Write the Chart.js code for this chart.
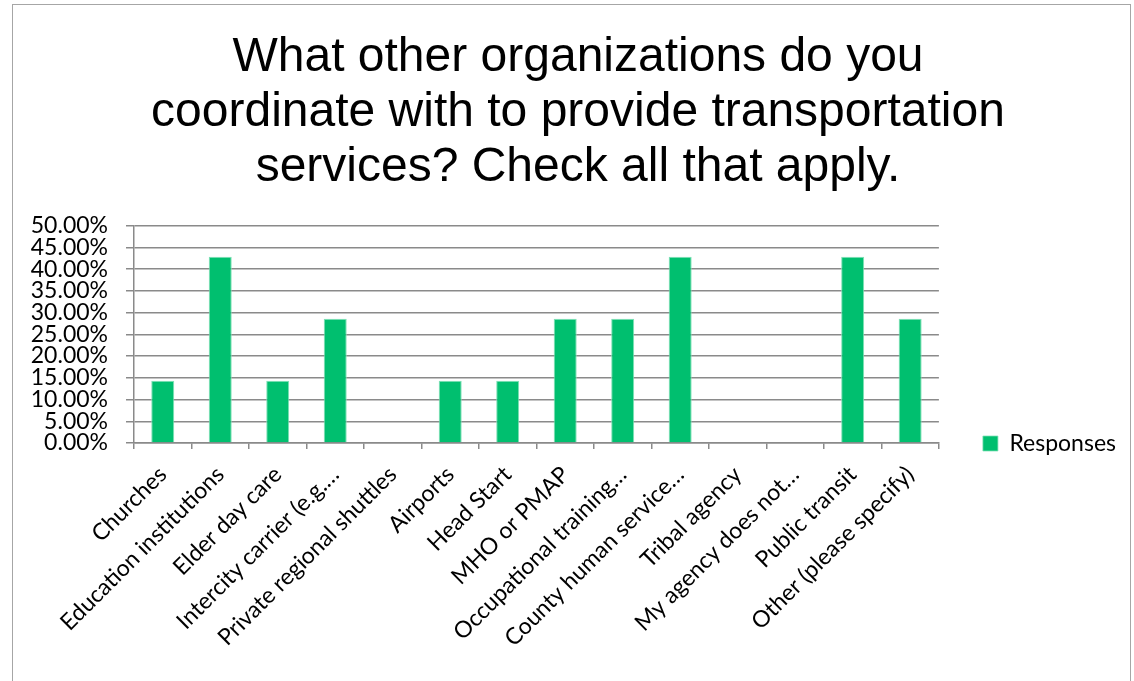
<!DOCTYPE html>
<html>
<head>
<meta charset="utf-8">
<script src="https://cdn.jsdelivr.net/npm/chart.js@4/dist/chart.umd.min.js"></script>
<style>
  html, body { margin: 0; padding: 0; background: #fff; }
  #wrap { position: relative; width: 1134px; height: 681px; overflow: hidden; }
  #frame { position: absolute; left: 12px; top: 4px; width: 1117px; height: 720px; border: 1px solid #a6a6a6; }
  canvas { position: absolute; left: 0; top: 0; }
</style>
</head>
<body>
<div id="wrap">
  <div id="frame"></div>
  <canvas id="myChart" width="1134" height="681"></canvas>
</div>
<script>
const categories = [
  'Churches',
  'Education institutions',
  'Elder day care',
  'Intercity carrier (e.g.…',
  'Private regional shuttles',
  'Airports',
  'Head Start',
  'MHO or PMAP',
  'Occupational training…',
  'County human service…',
  'Tribal agency',
  'My agency does not…',
  'Public transit',
  'Other (please specify)'
];
const responses = [14.29, 42.86, 14.29, 28.57, 0, 14.29, 14.29, 28.57, 28.57, 42.86, 0, 0, 42.86, 28.57];
const titleLines = [
  'What other organizations do you',
  'coordinate with to provide transportation',
  'services? Check all that apply.'
];

const labelFont = { family: 'Lato', size: 23 };
const gridGray = '#8a8a8a';

// push the legend down so it sits next to the bottom of the plot, like the original
const legendNudge = {
  id: 'legendNudge',
  afterLayout(chart) {
    const lg = chart.legend;
    const h = lg.bottom - lg.top;
    lg.bottom = chart.chartArea.bottom + 56;
    lg.top = lg.bottom - h;
  }
};

const ctx = document.getElementById('myChart');

const myChart = new Chart(ctx, {
  type: 'bar',
  data: {
    labels: categories,
    datasets: [{
      label: 'Responses',
      data: responses,
      backgroundColor: '#00bf6f',
      borderColor: '#7fe0b5',
      borderWidth: { top: 1, left: 1, right: 1, bottom: 0 },
      barPercentage: 0.4,
      categoryPercentage: 1.0
    }]
  },
  plugins: [legendNudge],
  options: {
    responsive: false,
    animation: false,
    layout: {
      padding: { left: 30, right: 8, top: 30, bottom: 8 }
    },
    plugins: {
      title: {
        display: true,
        text: titleLines,
        color: '#000',
        font: { family: 'Liberation Sans', size: 48, weight: 'normal', lineHeight: 1.15 },
        padding: { top: 0, bottom: 30 }
      },
      legend: {
        position: 'right',
        align: 'end',
        fullSize: false,
        labels: {
          color: '#000',
          font: labelFont,
          boxWidth: 15,
          boxHeight: 15,
          padding: 44
        }
      },
      tooltip: { enabled: false }
    },
    scales: {
      x: {
        afterFit: function (scale) { scale.height = 230; },
        grid: {
          drawOnChartArea: false,
          drawTicks: true,
          tickLength: 6,
          color: gridGray,
          lineWidth: 1.5
        },
        border: { display: true, color: gridGray, width: 1.5 },
        ticks: {
          color: '#000',
          font: labelFont,
          autoSkip: false,
          maxRotation: 45,
          minRotation: 45,
          padding: 12
        }
      },
      y: {
        min: 0,
        max: 50,
        afterFit: function (scale) { scale.width = 104; },
        grid: {
          color: gridGray,
          lineWidth: 1.5,
          tickLength: 8
        },
        border: { display: true, color: gridGray, width: 1.5 },
        ticks: {
          stepSize: 5,
          autoSkip: false,
          color: '#000',
          font: labelFont,
          padding: 18,
          callback: function (value) { return value.toFixed(2) + '%'; }
        }
      }
    }
  }
});
</script>
</body>
</html>
